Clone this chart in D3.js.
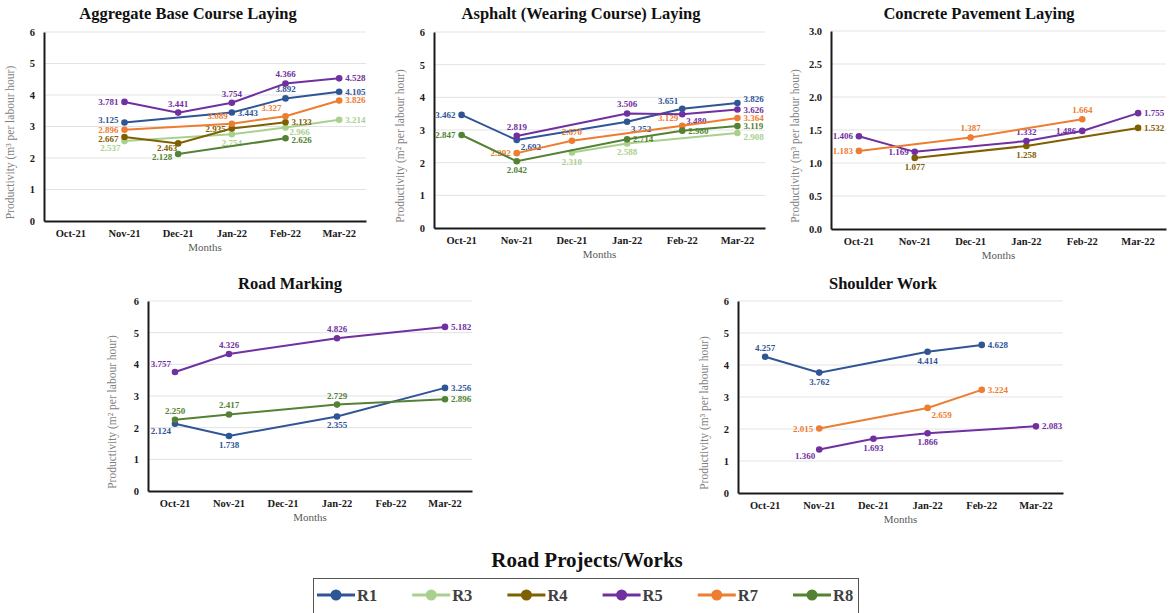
<!DOCTYPE html>
<html>
<head>
<meta charset="utf-8">
<script src="https://cdn.jsdelivr.net/npm/d3@7"></script>
<style>
  body { margin: 0; background: #fff; }
  svg { font-family: "Liberation Serif", "Times New Roman", serif; }
</style>
</head>
<body>
<svg id="chart" width="1172" height="613"></svg>
<script>
// months & projects
const months = ["Oct-21", "Nov-21", "Dec-21", "Jan-22", "Feb-22", "Mar-22"];
const projects = ["R1", "R3", "R4", "R5", "R7", "R8"];
const projectColors = ["#2F5597", "#A9D18E", "#7F6000", "#7030A0", "#ED7D31", "#548235"];

// values per panel (null = no data that month)
const aggregateBase = {
  R1: [null, 3.125, null, 3.443, 3.892, 4.105],
  R3: [null, 2.537, null, 2.754, 2.966, 3.214],
  R4: [null, 2.667, 2.463, 2.935, 3.133, null],
  R5: [null, 3.781, 3.441, 3.754, 4.366, 4.528],
  R7: [null, 2.896, null, 3.089, 3.327, 3.826],
  R8: [null, null, 2.128, null, 2.626, null]
};
const asphalt = {
  R1: [3.462, 2.692, null, 3.252, 3.651, 3.826],
  R3: [null, null, 2.310, 2.588, null, 2.908],
  R5: [null, 2.819, null, 3.506, 3.480, 3.626],
  R7: [null, 2.292, 2.670, null, 3.129, 3.364],
  R8: [2.847, 2.042, null, 2.714, 2.980, 3.119]
};
const concrete = {
  R4: [null, 1.077, null, 1.258, null, 1.532],
  R5: [1.406, 1.169, null, 1.332, 1.486, 1.755],
  R7: [1.183, null, 1.387, null, 1.664, null]
};
const roadMarking = {
  R1: [2.124, 1.738, null, 2.355, null, 3.256],
  R5: [3.757, 4.326, null, 4.826, null, 5.182],
  R8: [2.250, 2.417, null, 2.729, null, 2.896]
};
const shoulder = {
  R1: [4.257, 3.762, null, 4.414, 4.628, null],
  R5: [null, 1.360, 1.693, 1.866, null, 2.083],
  R7: [null, 2.015, null, 2.659, 3.224, null]
};

// where each value label sits next to its point
const aggregateBaseLabels = {
  R1: [null, "lu", null, "r", "a", "r"],
  R3: [null, "bl", null, "b", "rd", "r"],
  R4: [null, "ll", "lb", "l", "r", null],
  R5: [null, "l", "a", "a", "a", "r"],
  R7: [null, "l", null, "al", "al", "r"],
  R8: [null, null, "ld", null, "rb", null]
};
const asphaltLabels = {
  R1: ["l", "br", null, "br", "al", "ru"],
  R3: [null, null, "b", "b", null, "rb2"],
  R5: [null, "a", null, "a", "br", "r"],
  R7: [null, "l", "a", null, "al", "r"],
  R8: ["l", "b", null, "r", "r", "r"]
};
const concreteLabels = {
  R4: [null, "b", null, "b", null, "r"],
  R5: ["l", "l", null, "a", "l", "r"],
  R7: ["l", null, "a", null, "a", null]
};
const roadMarkingLabels = {
  R1: ["bl", "b", null, "b", null, "r"],
  R5: ["al", "a", null, "a", null, "r"],
  R8: ["a", "a", null, "a", null, "r"]
};
const shoulderLabels = {
  R1: ["a", "b", null, "b", "r", null],
  R5: [null, "bl", "b", "b", null, "r"],
  R7: [null, "l", null, "br", "r", null]
};

const panels = [
  { title: "Aggregate Base Course Laying", data: aggregateBase, labels: aggregateBaseLabels,
    left: 44, right: 366, top: 32, bottom: 221, max: 6, step: 1, unit: "m³", titleX: 188, titleY: 19, ylabX: 14 },
  { title: "Asphalt (Wearing Course) Laying", data: asphalt, labels: asphaltLabels,
    left: 434, right: 765, top: 32, bottom: 228, max: 6, step: 1, unit: "m²", titleX: 581, titleY: 19, ylabX: 404 },
  { title: "Concrete Pavement Laying", data: concrete, labels: concreteLabels,
    left: 831, right: 1166, top: 31, bottom: 229, max: 3, step: 0.5, unit: "m³", titleX: 979, titleY: 19, ylabX: 799, dec: 1 },
  { title: "Road Marking", data: roadMarking, labels: roadMarkingLabels,
    left: 148, right: 472, top: 301, bottom: 491, max: 6, step: 1, unit: "m²", titleX: 290, titleY: 289, ylabX: 116 },
  { title: "Shoulder Work", data: shoulder, labels: shoulderLabels,
    left: 738, right: 1063, top: 301, bottom: 493, max: 6, step: 1, unit: "m³", titleX: 883, titleY: 289, ylabX: 708 }
];

const svg = d3.select("#chart");
const color = d3.scaleOrdinal().domain(projects).range(projectColors);
const fmt = d3.format(".3f");

const offsets = {
  l:  { dx: -6, dy: 3, anchor: "end" },
  lu: { dx: -6, dy: 0, anchor: "end" },
  ll: { dx: -6, dy: 5, anchor: "end" },
  r:  { dx: 6, dy: 3, anchor: "start" },
  a:  { dx: 0, dy: -6, anchor: "middle" },
  b:  { dx: 0, dy: 12, anchor: "middle" },
  bl: { dx: -4, dy: 10, anchor: "end" },
  br: { dx: 4, dy: 10, anchor: "start" },
  al: { dx: -4, dy: -5, anchor: "end" },
  ru: { dx: 6, dy: -1, anchor: "start" },
  rb: { dx: 6, dy: 5, anchor: "start" },
  rb2: { dx: 6, dy: 7, anchor: "start" },
  rd: { dx: 4, dy: 7, anchor: "start" },
  lb: { dx: -1, dy: 8, anchor: "end" },
  ld: { dx: -6, dy: 6, anchor: "end" }
};

panels.forEach(p => {
  const g = svg.append("g");
  const x = d3.scaleBand().domain(months).range([p.left, p.right]);
  const y = d3.scaleLinear().domain([0, p.max]).range([p.bottom, p.top]);
  const ticks = d3.range(0, p.max + p.step / 2, p.step);
  const tickFmt = p.dec ? d3.format(".1f") : d3.format("d");

  // gridlines
  g.selectAll("line.grid")
    .data(ticks.slice(1))
    .enter().append("line")
    .attr("x1", p.left).attr("x2", p.right)
    .attr("y1", d => y(d)).attr("y2", d => y(d))
    .attr("stroke", "#e3e3e3").attr("stroke-width", 1);

  // axes
  const yAxis = g.append("g")
    .attr("transform", `translate(${p.left},0)`)
    .call(d3.axisLeft(y).tickValues(ticks).tickFormat(tickFmt).tickSize(0).tickPadding(9));
  const xAxis = g.append("g")
    .attr("transform", `translate(0,${p.bottom})`)
    .call(d3.axisBottom(x).tickSize(0).tickPadding(9));
  [yAxis, xAxis].forEach(a => {
    a.select(".domain").attr("stroke", "#1a1a1a").attr("stroke-width", 2);
    a.selectAll("text")
      .attr("font-family", "Liberation Serif")
      .attr("font-weight", "bold")
      .attr("font-size", 10.5)
      .attr("fill", "#1a1a1a");
  });

  // titles
  g.append("text")
    .attr("x", p.titleX).attr("y", p.titleY)
    .attr("text-anchor", "middle")
    .attr("font-weight", "bold").attr("font-size", 16.5)
    .attr("fill", "#111")
    .text(p.title);

  g.append("text")
    .attr("x", (p.left + p.right) / 2).attr("y", p.bottom + 30)
    .attr("text-anchor", "middle")
    .attr("font-size", 11).attr("fill", "#595959")
    .text("Months");

  g.append("text")
    .attr("transform", `translate(${p.ylabX},${(p.top + p.bottom) / 2 + 16}) rotate(-90)`)
    .attr("text-anchor", "middle")
    .attr("font-size", 11.5).attr("fill", "#7f7f7f")
    .text(`Productivity (${p.unit} per labour hour)`);

  // series
  const keys = projects.filter(k => p.data[k]);
  keys.forEach(k => {
    const pts = p.data[k]
      .map((v, i) => ({ m: months[i], v: v, pos: p.labels[k][i] }))
      .filter(d => d.v !== null);
    const line = d3.line()
      .x(d => x(d.m) + x.bandwidth() / 2)
      .y(d => y(d.v));

    g.append("path")
      .datum(pts)
      .attr("d", line)
      .attr("fill", "none")
      .attr("stroke", color(k))
      .attr("stroke-width", 2);

    g.selectAll(null)
      .data(pts)
      .enter().append("circle")
      .attr("cx", d => x(d.m) + x.bandwidth() / 2)
      .attr("cy", d => y(d.v))
      .attr("r", 3.3)
      .attr("fill", color(k));

    g.selectAll(null)
      .data(pts)
      .enter().append("text")
      .attr("x", d => x(d.m) + x.bandwidth() / 2 + offsets[d.pos].dx)
      .attr("y", d => y(d.v) + offsets[d.pos].dy)
      .attr("text-anchor", d => offsets[d.pos].anchor)
      .attr("font-weight", "bold").attr("font-size", 9)
      .attr("fill", color(k))
      .text(d => fmt(d.v));
  });
});

// legend
svg.append("text")
  .attr("x", 587).attr("y", 567)
  .attr("text-anchor", "middle")
  .attr("font-weight", "bold").attr("font-size", 21)
  .attr("fill", "#111")
  .text("Road Projects/Works");

svg.append("rect")
  .attr("x", 313.5).attr("y", 578.5)
  .attr("width", 545).attr("height", 36)
  .attr("fill", "none").attr("stroke", "#555").attr("stroke-width", 1);

const legendX = d3.scalePoint().domain(projects).range([317, 793]);
const items = svg.selectAll("g.legend")
  .data(projects)
  .enter().append("g")
  .attr("class", "legend")
  .attr("transform", d => `translate(${legendX(d)},595)`);

items.append("line")
  .attr("x1", 0).attr("x2", 38)
  .attr("stroke", d => color(d)).attr("stroke-width", 3);
items.append("circle")
  .attr("cx", 19).attr("r", 5.5)
  .attr("fill", d => color(d));
items.append("text")
  .attr("x", 40).attr("y", 6)
  .attr("font-weight", "bold").attr("font-size", 16.5)
  .attr("fill", "#404040")
  .text(d => d);
</script>
</body>
</html>
